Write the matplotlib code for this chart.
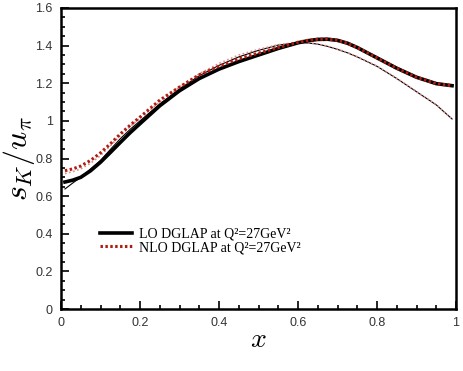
import matplotlib
matplotlib.use("Agg")
import matplotlib.pyplot as plt
from matplotlib.ticker import MultipleLocator

plt.rcParams['mathtext.fontset'] = 'cm'

# values
x = [0.01, 0.03, 0.05, 0.075, 0.1, 0.125, 0.15, 0.175, 0.2, 0.25, 0.3, 0.35, 0.4,
     0.45, 0.5, 0.55, 0.6, 0.625, 0.65, 0.675, 0.7, 0.725, 0.75, 0.8, 0.85, 0.9,
     0.95, 0.99]

lo_thick = [0.675, 0.685, 0.70, 0.735, 0.78, 0.832, 0.885, 0.937, 0.985, 1.08, 1.16,
            1.225, 1.275, 1.315, 1.35, 1.385, 1.415, 1.426, 1.433, 1.434, 1.428,
            1.413, 1.39, 1.335, 1.28, 1.232, 1.198, 1.187]
nlo_thick = [0.735, 0.745, 0.76, 0.79, 0.83, 0.878, 0.93, 0.977, 1.02, 1.11, 1.18,
             1.245, 1.29, 1.33, 1.36, 1.39, 1.418, 1.428, 1.434, 1.435, 1.428,
             1.413, 1.39, 1.335, 1.28, 1.232, 1.198, 1.187]
lo_thin = [0.638, 0.67, 0.70, 0.745, 0.79, 0.848, 0.905, 0.955, 1.0, 1.09, 1.17,
           1.24, 1.295, 1.34, 1.375, 1.403, 1.415, 1.414, 1.408, 1.396, 1.38,
           1.362, 1.34, 1.29, 1.225, 1.155, 1.085, 1.01]
nlo_thin = [0.72, 0.73, 0.745, 0.775, 0.815, 0.868, 0.922, 0.97, 1.015, 1.10, 1.18,
            1.25, 1.305, 1.35, 1.38, 1.405, 1.416, 1.415, 1.409, 1.397, 1.381,
            1.363, 1.341, 1.291, 1.226, 1.156, 1.086, 1.01]

x_ticks = [0, 0.2, 0.4, 0.6, 0.8, 1]
x_ticklabels = ['0', '0.2', '0.4', '0.6', '0.8', '1']
y_ticks = [0, 0.2, 0.4, 0.6, 0.8, 1, 1.2, 1.4, 1.6]
y_ticklabels = ['0', '0.2', '0.4', '0.6', '0.8', '1', '1.2', '1.4', '1.6']

lo_label = "LO DGLAP at Q²=27GeV²"
nlo_label = "NLO DGLAP at Q²=27GeV²"

fig = plt.figure(figsize=(4.63, 3.71), dpi=100)
ax = fig.add_axes([61/463, 1 - 309/371, 395/463, 301/371])

ax.plot(x, lo_thin, color='black', linewidth=0.8)
ax.plot(x, nlo_thin, color='#e58a8a', linewidth=1.2, linestyle=(0, (1, 1.5)))
ax.plot(x, lo_thick, color='black', linewidth=2.6, label=lo_label)
ax.plot(x, nlo_thick, color='#b01c12', linewidth=2.2, linestyle=(0, (0.8, 0.8)), label=nlo_label)

ax.set_xlim(0, 1)
ax.set_ylim(0, 1.6)
ax.set_xticks(x_ticks)
ax.set_xticklabels(x_ticklabels, family='Liberation Sans')
ax.set_yticks(y_ticks)
ax.set_yticklabels(y_ticklabels, family='Liberation Sans')
ax.xaxis.set_minor_locator(MultipleLocator(0.05))
ax.yaxis.set_minor_locator(MultipleLocator(0.05))
ax.tick_params(which='both', direction='in', top=False, right=False,
               labelsize=9, labelcolor='#333333', width=1.2)
ax.tick_params(which='major', length=6, pad=6)
ax.tick_params(which='minor', length=3)
for side in ax.spines:
    ax.spines[side].set_linewidth(1.8)

ax.set_xlabel('$x$', fontsize=20, labelpad=-3)
ax.set_ylabel(r'$s_K/u_\pi$', fontsize=23)
ax.yaxis.set_label_coords(-0.062, 0.5)

ax.legend(loc='center left', bbox_to_anchor=(0.0987, 0.226), frameon=False,
          prop={'family': 'Liberation Serif', 'size': 10},
          handlelength=2.3, handletextpad=0.5, labelspacing=0.02, borderpad=0,
          borderaxespad=0)

fig.savefig('out.png', dpi=100)
